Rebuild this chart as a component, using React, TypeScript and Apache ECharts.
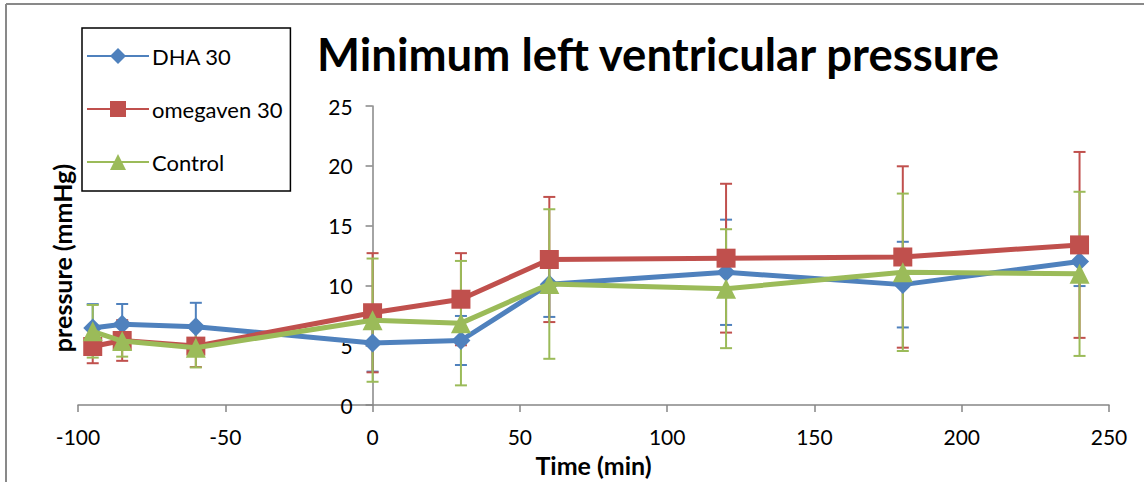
import React, { useEffect, useRef } from "react";
import * as echarts from "echarts";

const times = [-95, -85, -60, 0, 30, 60, 120, 180, 240];
const dhaValues = [6.44, 6.75, 6.55, 5.2, 5.4, 10.1, 11.1, 10.07, 12.0];
const dhaErrors = [2.0, 1.7, 2.0, 2.4, 2.05, 2.73, 4.4, 3.58, 2.05];
const omegavenValues = [4.9, 5.4, 4.93, 7.72, 8.85, 12.17, 12.28, 12.38, 13.39];
const omegavenErrors = [1.4, 1.7, 1.75, 4.98, 3.85, 5.23, 6.22, 7.58, 7.77];
const controlValues = [6.17, 5.35, 4.8, 7.1, 6.85, 10.12, 9.73, 11.1, 10.97];
const controlErrors = [2.2, 1.3, 1.65, 5.15, 5.2, 6.25, 4.97, 6.58, 6.86];

const seriesNames = ["DHA 30", "omegaven 30", "Control"];
const colors = ["#4F81BD", "#C0504D", "#9BBB59"];
const symbols = ["diamond", "rect", "triangle"];
const symbolSizes = [19, 19, 20];

const FONT = "Lato, 'Noto Sans', sans-serif";

const GRID_LEFT = 78;
const GRID_RIGHT = 35;
const WIDTH = 1144;
const X_MIN = -100;
const X_MAX = 250;

export default function App() {
  const ref = useRef<HTMLDivElement>(null);
  useEffect(() => {
    if (!ref.current) return;
    const chart = echarts.init(ref.current, null, { renderer: "svg" });
    const valueSets = [dhaValues, omegavenValues, controlValues];
    const errorSets = [dhaErrors, omegavenErrors, controlErrors];
    const gridW = WIDTH - GRID_LEFT - GRID_RIGHT;
    const yAxisOffset = -((0 - X_MIN) / (X_MAX - X_MIN)) * gridW;

    const lineSeries = valueSets.map((vals, i) => ({
      name: seriesNames[i],
      type: "line",
      data: times.map((t, j) => [t, vals[j]]),
      symbol: symbols[i],
      symbolSize: symbolSizes[i],
      showSymbol: true,
      lineStyle: { width: 5, color: colors[i] },
      itemStyle: { color: colors[i] },
      z: 3 + i,
    }));

    const errSeries = valueSets.map((vals, i) => ({
      name: seriesNames[i] + " err",
      type: "custom",
      z: 2,
      data: times.map((t, j) => [t, vals[j] - errorSets[i][j], vals[j] + errorSets[i][j]]),
      encode: { x: 0, y: [1, 2] },
      renderItem: (params: any, api: any) => {
        const x = api.value(0);
        const lo = api.coord([x, api.value(1)]);
        const hi = api.coord([x, api.value(2)]);
        const hw = 6;
        const style = { stroke: colors[i], lineWidth: 2 };
        return {
          type: "group",
          children: [
            { type: "line", shape: { x1: lo[0], y1: lo[1], x2: hi[0], y2: hi[1] }, style },
            { type: "line", shape: { x1: lo[0] - hw, y1: lo[1], x2: lo[0] + hw, y2: lo[1] }, style },
            { type: "line", shape: { x1: hi[0] - hw, y1: hi[1], x2: hi[0] + hw, y2: hi[1] }, style },
          ],
        };
      },
    }));

    chart.setOption({
      animation: false,
      title: {
        text: "Minimum left ventricular pressure",
        left: 653,
        textAlign: "center",
        top: 25,
        textStyle: { fontFamily: FONT, fontWeight: "bold", fontSize: 45.5, color: "#000" },
      },
      legend: {
        data: seriesNames,
        orient: "vertical",
        left: 82,
        top: 28,
        padding: [17, 8, 18, 4],
        itemGap: 31,
        itemWidth: 62,
        itemHeight: 20,
        borderColor: "#000",
        borderWidth: 1.5,
        textStyle: { fontFamily: FONT, fontSize: 22, color: "#000", padding: [0, 0, 0, -2] },
      },
      grid: { left: GRID_LEFT, right: GRID_RIGHT, top: 106, bottom: 72, containLabel: false },
      xAxis: {
        type: "value",
        min: X_MIN,
        max: X_MAX,
        interval: 50,
        name: "Time (min)",
        nameLocation: "middle",
        nameGap: 42,
        nameTextStyle: { fontFamily: FONT, fontWeight: "bold", fontSize: 25, color: "#000" },
        axisLine: { lineStyle: { color: "#868686", width: 1.5 } },
        axisTick: { show: true, length: 7, lineStyle: { color: "#868686", width: 1.5 } },
        axisLabel: { fontFamily: FONT, fontSize: 21, color: "#000", margin: 21 },
        splitLine: { show: false },
      },
      yAxis: {
        type: "value",
        min: 0,
        max: 25,
        interval: 5,
        offset: yAxisOffset,
        axisLine: { show: true, onZero: false, lineStyle: { color: "#868686", width: 1.5 } },
        axisTick: { show: true, length: 7, lineStyle: { color: "#868686", width: 1.5 } },
        axisLabel: { fontFamily: FONT, fontSize: 21, color: "#000", margin: 20 },
        splitLine: { show: false },
      },
      graphic: [
        { type: "line", shape: { x1: 6, y1: 4, x2: 1144, y2: 4 }, style: { stroke: "#898989", lineWidth: 2 } },
        { type: "line", shape: { x1: 6, y1: 4, x2: 6, y2: 482 }, style: { stroke: "#898989", lineWidth: 2 } },
        {
          type: "text",
          x: 62,
          y: 258,
          rotation: Math.PI / 2,
          style: {
            text: "pressure (mmHg)",
            fontFamily: FONT,
            fontWeight: "bold",
            fontSize: 25,
            fill: "#000",
            align: "center",
            verticalAlign: "middle",
          },
        },
      ],
      series: [...errSeries, ...lineSeries],
    });
    return () => chart.dispose();
  }, []);
  return (
    <div
      ref={ref}
      style={{ position: "absolute", left: 0, top: 0, width: 1144, height: 482, background: "#fff" }}
    />
  );
}
